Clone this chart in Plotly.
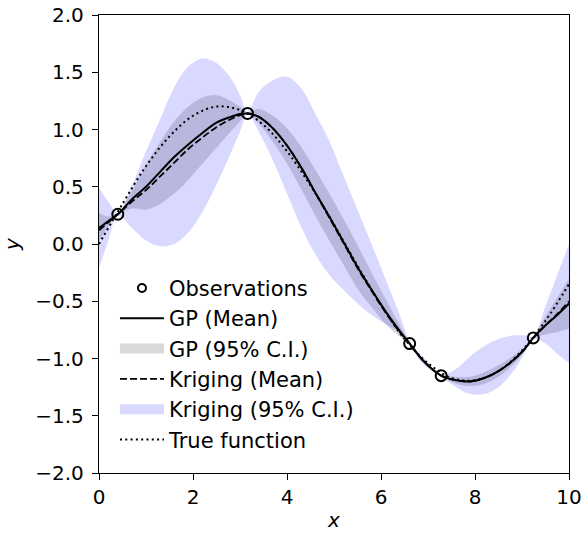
import plotly.graph_objects as go

# ---------------- data ----------------
x_obs = [0.40, 3.16, 6.61, 7.28, 9.24]
y_obs = [0.26, 1.14, -0.87, -1.15, -0.82]

x_grid = [0.0, 0.2, 0.4, 0.7, 1.0, 1.3, 1.6, 1.9, 2.2, 2.5, 2.8, 3.0, 3.16,
          3.4, 3.7, 4.0, 4.3, 4.6, 4.9, 5.2, 5.5, 5.8, 6.1, 6.4, 6.61,
          6.9, 7.28, 7.6, 7.9, 8.2, 8.5, 8.8, 9.05, 9.24, 9.5, 9.75, 10.0]

gp_mean = [0.14, 0.20, 0.26, 0.39, 0.50, 0.63, 0.76, 0.87, 0.97, 1.06, 1.11, 1.135, 1.14,
           1.11, 1.01, 0.86, 0.67, 0.45, 0.24, 0.02, -0.20, -0.40, -0.59, -0.76, -0.87,
           -1.02, -1.15, -1.19, -1.20, -1.17, -1.11, -1.02, -0.92, -0.82, -0.71, -0.62, -0.52]

gp_upper = [0.27, 0.24, 0.27, 0.46, 0.69, 0.89, 1.07, 1.20, 1.28, 1.30, 1.25, 1.20, 1.15,
            1.18, 1.12, 1.01, 0.85, 0.65, 0.44, 0.22, -0.01, -0.25, -0.48, -0.71, -0.86,
            -1.00, -1.14, -1.16, -1.16, -1.12, -1.06, -0.98, -0.90, -0.81, -0.63, -0.47, -0.30]

gp_lower = [0.02, 0.16, 0.25, 0.31, 0.30, 0.35, 0.44, 0.56, 0.70, 0.84, 0.98, 1.07, 1.13,
            1.05, 0.89, 0.70, 0.48, 0.25, 0.03, -0.18, -0.39, -0.55, -0.70, -0.81, -0.88,
            -1.04, -1.16, -1.22, -1.24, -1.22, -1.16, -1.06, -0.94, -0.83, -0.79, -0.77, -0.74]

kr_mean = [0.12, 0.19, 0.26, 0.37, 0.47, 0.59, 0.71, 0.83, 0.93, 1.02, 1.09, 1.125, 1.14,
           1.11, 1.01, 0.86, 0.67, 0.45, 0.23, 0.01, -0.21, -0.41, -0.60, -0.77, -0.87,
           -1.02, -1.15, -1.19, -1.20, -1.17, -1.11, -1.02, -0.92, -0.82, -0.71, -0.61, -0.50]

kr_upper = [0.49, 0.37, 0.27, 0.51, 0.81, 1.09, 1.37, 1.55, 1.62, 1.58, 1.45, 1.30, 1.15,
            1.33, 1.43, 1.46, 1.36, 1.14, 0.90, 0.60, 0.30, 0.00, -0.31, -0.62, -0.85,
            -0.99, -1.14, -1.09, -0.98, -0.89, -0.83, -0.80, -0.80, -0.81, -0.54, -0.27, 0.00]

kr_lower = [-0.21, 0.03, 0.25, 0.14, 0.03, -0.02, 0.00, 0.10, 0.28, 0.52, 0.79, 0.98, 1.13,
            0.98, 0.73, 0.44, 0.15, -0.09, -0.27, -0.40, -0.52, -0.62, -0.70, -0.78, -0.89,
            -1.05, -1.16, -1.25, -1.31, -1.31, -1.25, -1.12, -0.96, -0.83, -0.87, -0.96, -1.04]

x_true = [0.0, 0.5, 1.0, 1.5, 2.0, 2.5, 3.0, 3.5, 4.0, 4.5, 5.0,
          5.5, 6.0, 6.5, 7.0, 7.5, 8.0, 8.5, 9.0, 9.5, 10.0]
y_true = [0.00, 0.35, 0.68, 0.94, 1.12, 1.20, 1.17, 1.04, 0.81, 0.51, 0.17,
          -0.19, -0.53, -0.83, -1.04, -1.17, -1.19, -1.11, -0.93, -0.67, -0.35]

x_ticks = [0, 2, 4, 6, 8, 10]
y_ticks = [-2.0, -1.5, -1.0, -0.5, 0.0, 0.5, 1.0, 1.5, 2.0]

legend_names = ["Observations", "GP (Mean)", "GP (95% C.I.)",
                "Kriging (Mean)", "Kriging (95% C.I.)", "True function"]

# ---------------- styles ----------------
FONT = "DejaVu Sans"
GRAY_FILL = "rgba(128,128,128,0.3)"
BLUE_FILL = "rgba(0,0,255,0.15)"
GRAY_SWATCH = "rgb(217,217,217)"
BLUE_SWATCH = "rgb(217,217,255)"
AXIS_COLOR = "black"

fig = go.Figure()

# GP confidence band
fig.add_trace(go.Scatter(x=x_grid, y=gp_lower, mode="lines",
                         line=dict(width=0, shape="spline"),
                         showlegend=False, hoverinfo="skip"))
fig.add_trace(go.Scatter(x=x_grid, y=gp_upper, mode="lines",
                         line=dict(width=0, shape="spline"),
                         fill="tonexty", fillcolor=GRAY_FILL,
                         showlegend=False, hoverinfo="skip"))
# Kriging confidence band
fig.add_trace(go.Scatter(x=x_grid, y=kr_lower, mode="lines",
                         line=dict(width=0, shape="spline"),
                         showlegend=False, hoverinfo="skip"))
fig.add_trace(go.Scatter(x=x_grid, y=kr_upper, mode="lines",
                         line=dict(width=0, shape="spline"),
                         fill="tonexty", fillcolor=BLUE_FILL,
                         showlegend=False, hoverinfo="skip"))

# True function (dotted)
fig.add_trace(go.Scatter(x=x_true, y=y_true, mode="lines", name=legend_names[5],
                         line=dict(color="black", width=2, dash="2px,3.3px", shape="spline"),
                         legendrank=6))
# Kriging mean (dashed)
fig.add_trace(go.Scatter(x=x_grid, y=kr_mean, mode="lines", name=legend_names[3],
                         line=dict(color="black", width=1.8, dash="7px,3px", shape="spline"),
                         legendrank=4))
# GP mean (solid)
fig.add_trace(go.Scatter(x=x_grid, y=gp_mean, mode="lines", name=legend_names[1],
                         line=dict(color="black", width=2, shape="spline"),
                         legendrank=2))
# Observations
fig.add_trace(go.Scatter(x=x_obs, y=y_obs, mode="markers", showlegend=False,
                         marker=dict(symbol="circle-open", size=11,
                                     line=dict(color="black", width=2), color="black")))

# legend-only entries
fig.add_trace(go.Scatter(x=[None], y=[None], mode="markers", name=legend_names[0],
                         marker=dict(symbol="circle-open", size=8,
                                     line=dict(color="black", width=2), color="black"),
                         legendrank=1))
fig.add_trace(go.Scatter(x=[None], y=[None], mode="lines", name=legend_names[2],
                         line=dict(color=GRAY_SWATCH, width=14), legendrank=3))
fig.add_trace(go.Scatter(x=[None], y=[None], mode="lines", name=legend_names[4],
                         line=dict(color=BLUE_SWATCH, width=14), legendrank=5))

axis_common = dict(
    showline=True, linecolor=AXIS_COLOR, linewidth=1.3, mirror=True,
    ticks="outside", ticklen=6, tickwidth=1.3, tickcolor=AXIS_COLOR,
    showgrid=False, zeroline=False, automargin=False, ticklabeloverflow="allow",
    tickfont=dict(family=FONT, size=20, color="black"),
)

fig.update_xaxes(range=[0, 10], tickmode="array", tickvals=x_ticks,
                 ticktext=[str(v) for v in x_ticks],
                 title=dict(text="<i>x</i>", font=dict(family=FONT, size=20, color="black"),
                            standoff=4),
                 **axis_common)
fig.update_yaxes(range=[-2, 2], tickmode="array", tickvals=y_ticks,
                 ticktext=[("\u2212" if v < 0 else "") + f"{abs(v):.1f}" for v in y_ticks],
                 ticklabelstandoff=4,
                 title=dict(text="<i>y</i>", font=dict(family=FONT, size=20, color="black"),
                            standoff=20),
                 **axis_common)

fig.update_layout(
    width=583, height=535,
    margin=dict(l=99, r=14, t=15, b=62),
    plot_bgcolor="white", paper_bgcolor="white",
    font=dict(family=FONT, size=20, color="black"),
    showlegend=True,
    legend=dict(x=0.034, y=0.448, xanchor="left", yanchor="top",
                bgcolor="rgba(0,0,0,0)", borderwidth=0,
                itemwidth=44, font=dict(family=FONT, size=21, color="black"),
                traceorder="normal"),
)

# remove the browser's default 8 px body margin so the figure fills the window
fig.write_html("out.html", config={"displayModeBar": False},
               post_script="document.body.style.margin='0px';")
